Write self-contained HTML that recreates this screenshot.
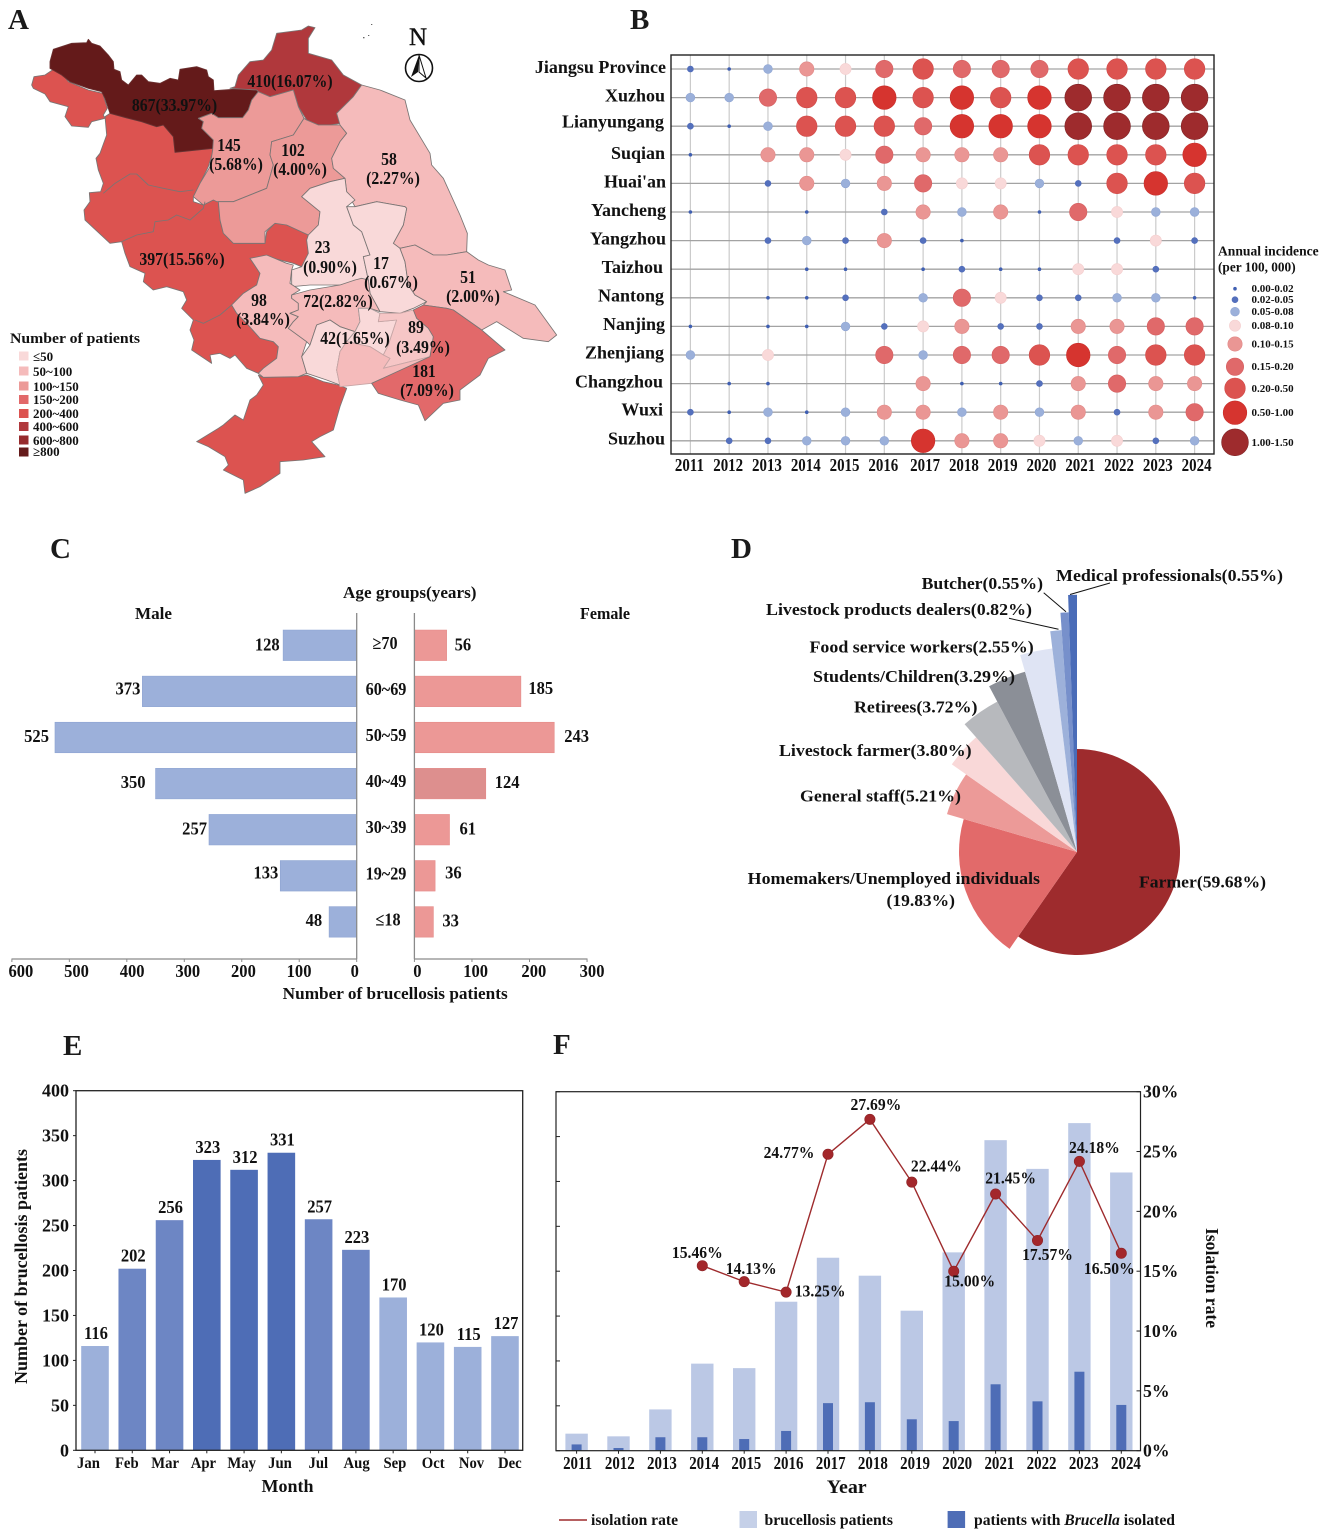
<!DOCTYPE html>
<html lang="en">
<head>
<meta charset="utf-8">
<title>Brucellosis epidemiology figure</title>
<style>
html,body{margin:0;padding:0;background:#fff}
svg{display:block;font-family:"Liberation Serif","Noto Serif CJK SC",serif;font-weight:bold;fill:#111}
</style>
</head>
<body>
<svg id="fig" xmlns="http://www.w3.org/2000/svg" width="1325" height="1534" viewBox="0 0 1325 1534">
<rect x="0" y="0" width="1325" height="1534" fill="#fff"/>

<!-- Panel letters -->
<g font-size="29" fill="#1a1a1a">
<text x="8" y="29">A</text>
<text x="630" y="29">B</text>
<text x="50" y="558">C</text>
<text x="731" y="558">D</text>
<text x="63" y="1055">E</text>
<text x="553" y="1054">F</text>
</g>

<!-- Panel A: map -->
<g>
<g transform="scale(0.33333)" stroke="#7a7574" stroke-width="2.6" stroke-linejoin="round">
<polygon fill="#dc5350" points="95,255 102,230 135,225 160,208 185,220 205,245 265,270 308,280 322,325 310,345 315,355 275,365 265,382 215,378 195,350 205,320 150,305 135,282 100,265"/>
<polygon fill="#dc5350" points="315,350 320,405 300,460 288,475 295,510 310,550 302,575 268,578 270,605 252,630 255,660 330,730 365,725 375,760 390,800 435,820 430,845 460,870 500,860 550,875 560,900 545,925 580,960 570,990 582,1020 575,1050 635,1090 630,1065 660,1060 690,1075 705,1065 740,1105 775,1120 790,1105 830,1075 835,1040 820,1025 780,1015 740,970 710,940 695,915 730,880 770,855 780,820 750,775 800,770 880,790 905,800 925,760 920,720 925,705 860,675 825,670 800,695 795,730 700,730 670,700 660,660 655,605 640,600 610,615 580,605 580,590 600,550 625,500 640,450 640,445 525,457 520,410 490,375 470,380 425,365 385,355 330,340"/>
<polygon fill="#dc5350" points="775,1125 790,1155 770,1185 750,1200 730,1260 705,1245 670,1275 655,1285 590,1325 625,1340 675,1370 685,1395 670,1410 730,1440 735,1480 780,1460 840,1420 840,1385 910,1380 975,1370 935,1325 960,1310 1000,1290 1020,1220 1040,1165 1015,1155 970,1145 920,1125 895,1130 790,1132"/>
<polygon fill="#641a1a" stroke="#6a3030" points="150,185 160,148 215,130 260,128 265,118 275,130 300,138 325,165 340,185 342,208 360,215 365,240 385,255 410,225 425,225 445,245 480,250 510,235 535,240 540,208 590,200 620,210 625,230 640,240 642,272 700,268 765,265 775,275 755,300 745,330 728,353 655,353 635,340 595,355 610,365 605,385 640,420 640,445 525,457 520,410 490,375 470,380 425,365 385,355 330,340 315,295 305,275 265,265 210,245 185,225 150,205"/>
<polygon fill="#b0383c" points="705,260 715,225 750,185 790,180 815,150 830,100 905,90 925,78 945,83 925,115 925,160 995,180 1030,225 1085,255 1060,290 1025,325 1010,340 1025,370 990,375 955,375 920,360 895,320 880,270 810,290 780,280 770,270 690,265"/>
<polygon fill="#ec9a98" points="595,355 635,340 655,353 728,353 745,330 755,300 775,275 810,290 880,270 895,320 912,355 880,405 815,425 810,465 820,495 800,565 700,605 650,605 640,600 610,615 580,590 600,550 630,500 638,450 640,420 605,385 610,365"/>
<polygon fill="#ec9a98" points="912,355 920,360 955,375 1020,375 1040,400 1020,425 995,475 1000,505 1035,535 990,545 930,565 905,590 960,635 955,675 925,705 860,675 825,670 795,695 795,730 700,730 670,700 660,660 655,605 700,605 800,565 820,495 810,465 815,425 880,405"/>
<polygon fill="#f5bbbb" points="1085,255 1140,270 1215,300 1230,360 1290,460 1295,495 1330,535 1380,645 1402,700 1400,755 1340,765 1300,765 1245,735 1200,745 1180,730 1210,675 1220,625 1215,620 1130,605 1065,620 1040,575 1035,535 1000,505 995,475 1020,425 1040,400 1020,375 1010,340 1025,325 1060,290"/>
<polygon fill="#f9d9d9" points="905,590 930,565 990,545 1035,535 1040,575 1065,600 1040,620 1060,675 1085,695 1110,765 1090,770 1105,840 1020,855 930,855 875,860 875,810 905,800 925,760 920,720 925,705 955,675 960,635"/>
<polygon fill="#f9d9d9" points="1065,620 1130,605 1215,620 1220,625 1210,675 1180,730 1200,745 1215,785 1225,855 1245,885 1280,905 1240,925 1200,940 1140,935 1110,880 1105,840 1090,770 1110,765 1085,695 1060,675 1040,620"/>
<polygon fill="#f5bbbb" points="1200,745 1245,735 1300,765 1340,765 1400,755 1435,780 1465,795 1515,810 1535,870 1510,875 1605,915 1670,1005 1645,1025 1570,1015 1490,965 1445,990 1360,930 1340,925 1270,915 1280,905 1245,885 1225,855 1215,785"/>
<polygon fill="#f5bbbb" points="750,775 800,765 860,790 880,795 875,810 870,850 900,870 875,885 875,895 895,910 895,930 870,940 895,950 880,965 865,985 920,1025 905,1070 920,1120 895,1130 790,1132 775,1120 790,1105 830,1075 835,1040 820,1025 780,1015 740,970 710,940 695,915 730,880 770,855 780,820"/>
<polygon fill="#f5bbbb" points="875,885 930,870 1020,855 1065,840 1085,835 1105,840 1110,880 1140,935 1110,925 1075,925 1080,965 1065,995 1020,980 990,960 950,975 930,1035 920,1025 865,985 880,965 895,950 870,940 895,930 895,910 875,895"/>
<polygon fill="#f9d9d9" points="950,975 990,960 1020,980 1065,995 1040,1025 1020,1055 1010,1110 1020,1155 980,1140 920,1120 905,1070 930,1035"/>
<polygon fill="#f9d9d9" stroke="#a89a9a" points="1075,925 1110,925 1140,940 1135,965 1190,960 1170,1020 1165,1035 1150,1065 1110,1040 1040,1025 1065,995 1080,965"/>
<polygon fill="#f6c6c6" stroke="#c7a5a5" points="1140,940 1200,940 1240,930 1250,955 1285,985 1300,1010 1290,1070 1150,1105 1170,1075 1150,1065 1165,1035 1190,960 1135,965"/>
<polygon fill="#f5bbbb" stroke="#c7a5a5" points="1020,1055 1040,1025 1110,1040 1150,1065 1170,1075 1150,1105 1290,1070 1115,1150 1020,1160 1010,1110"/>
<polygon fill="#e2696a" points="1240,930 1270,915 1340,925 1360,930 1445,990 1515,1050 1465,1075 1440,1125 1380,1170 1380,1200 1330,1210 1275,1262 1255,1215 1200,1200 1135,1180 1115,1150 1290,1070 1300,1010 1285,985 1250,955"/>
<polyline fill="none" points="310,580 345,550 390,522 410,522 445,555 490,565 540,575 580,570"/>
<polyline fill="none" points="365,725 410,705 460,695 465,665 505,660 530,645 570,660 610,625 615,605"/>
<polyline fill="none" points="585,960 610,970 660,945 695,915"/>
</g>

<g font-size="17.5" text-anchor="middle">
<text transform="translate(174.5 111) scale(.9 1)">867(33.97%)</text>
<text transform="translate(290 87) scale(.9 1)">410(16.07%)</text>
<text transform="translate(229 151) scale(.9 1)">145</text>
<text transform="translate(236 170) scale(.9 1)">(5.68%)</text>
<text transform="translate(293 156) scale(.9 1)">102</text>
<text transform="translate(300 175) scale(.9 1)">(4.00%)</text>
<text transform="translate(389 165) scale(.9 1)">58</text>
<text transform="translate(393 184) scale(.9 1)">(2.27%)</text>
<text transform="translate(182 265) scale(.9 1)">397(15.56%)</text>
<text transform="translate(322.5 253) scale(.9 1)">23</text>
<text transform="translate(330 273) scale(.9 1)">(0.90%)</text>
<text transform="translate(381 269) scale(.9 1)">17</text>
<text transform="translate(391 288) scale(.9 1)">(0.67%)</text>
<text transform="translate(468 283) scale(.9 1)">51</text>
<text transform="translate(473 302) scale(.9 1)">(2.00%)</text>
<text transform="translate(259 306) scale(.9 1)">98</text>
<text transform="translate(263 325) scale(.9 1)">(3.84%)</text>
<text transform="translate(338 307) scale(.9 1)">72(2.82%)</text>
<text transform="translate(355 344) scale(.9 1)">42(1.65%)</text>
<text transform="translate(416 333) scale(.9 1)">89</text>
<text transform="translate(423 353) scale(.9 1)">(3.49%)</text>
<text transform="translate(424 377) scale(.9 1)">181</text>
<text transform="translate(427 396) scale(.9 1)">(7.09%)</text>
</g>

<g>
<text x="418" y="45" font-size="25" text-anchor="middle" font-weight="normal" stroke="#111" stroke-width=".4">N</text>
<ellipse cx="419" cy="68" rx="13.5" ry="13.5" fill="#fff" stroke="#111" stroke-width="1.6"/>
<polygon points="419,55 418,72 411,77" fill="#111"/>
<polygon points="419,55 419,72 426,78" fill="#fff" stroke="#111" stroke-width="1"/>
</g>
<g fill="#666">
<rect x="371" y="24" width="1.3" height="1"/>
<rect x="363" y="37" width="1.5" height="1.3"/>
<rect x="368" y="35" width="1.3" height="1"/>
</g>

<g font-size="13">
<text x="10" y="343" font-size="15" textLength="130" lengthAdjust="spacingAndGlyphs">Number of patients</text>
<rect x="19" y="351.5" width="9.5" height="9" fill="#f9d9d9"/>
<text x="33" y="361">≤50</text>
<rect x="19" y="366.5" width="9.5" height="9" fill="#f5bbbb"/>
<text x="33" y="376">50~100</text>
<rect x="19" y="381.5" width="9.5" height="9" fill="#ec9a98"/>
<text x="33" y="391">100~150</text>
<rect x="19" y="395" width="9.5" height="9" fill="#e2696a"/>
<text x="33" y="404">150~200</text>
<rect x="19" y="409" width="9.5" height="9" fill="#dc5350"/>
<text x="33" y="418">200~400</text>
<rect x="19" y="422" width="9.5" height="9" fill="#b0383c"/>
<text x="33" y="431">400~600</text>
<rect x="19" y="435.5" width="9.5" height="9" fill="#962a2c"/>
<text x="33" y="445">600~800</text>
<rect x="19" y="447.5" width="9.5" height="9" fill="#641a1a"/>
<text x="33" y="456">≥800</text>
</g>
</g>

<g id="panelB"></g>
<g id="panelC"></g>
<g id="panelD"></g>
<g id="panelE"></g>
<g id="panelF"></g>
</svg>

<script>
// ---------- Panel B data ----------
const bubbleYears = [2011,2012,2013,2014,2015,2016,2017,2018,2019,2020,2021,2022,2023,2024];
const bubbleCities = ["Jiangsu Province","Xuzhou","Lianyungang","Suqian","Huai'an","Yancheng","Yangzhou","Taizhou","Nantong","Nanjing","Zhenjiang","Changzhou","Wuxi","Suzhou"];
const incidenceJiangsu = [0.03,0.01,0.06,0.12,0.09,0.18,0.3,0.18,0.18,0.18,0.3,0.3,0.3,0.3];
const incidenceXuzhou = [0.06,0.06,0.18,0.3,0.3,0.7,0.3,0.7,0.3,0.7,1.2,1.2,1.2,1.2];
const incidenceLianyungang = [0.03,0.01,0.06,0.3,0.3,0.3,0.18,0.7,0.7,0.7,1.2,1.2,1.2,1.2];
const incidenceSuqian = [0.01,null,0.12,0.12,0.09,0.18,0.12,0.12,0.12,0.3,0.3,0.3,0.3,0.7];
const incidenceHuaian = [null,null,0.03,0.12,0.06,0.12,0.18,0.09,0.09,0.06,0.03,0.3,0.7,0.3];
const incidenceYancheng = [0.01,null,null,0.01,null,0.03,0.12,0.06,0.12,0.01,0.18,0.09,0.06,0.06];
const incidenceYangzhou = [null,null,0.03,0.06,0.03,0.12,0.03,0.01,null,null,null,0.03,0.09,0.03];
const incidenceTaizhou = [null,null,null,0.01,0.01,null,0.01,0.03,0.01,0.01,0.09,0.09,0.03,null];
const incidenceNantong = [null,null,0.01,0.01,0.03,null,0.06,0.18,0.09,0.03,0.03,0.06,0.06,0.01];
const incidenceNanjing = [0.01,null,0.01,0.01,0.06,0.03,0.09,0.12,0.03,0.03,0.12,0.12,0.18,0.18];
const incidenceZhenjiang = [0.06,null,0.09,null,null,0.18,0.06,0.18,0.18,0.3,0.7,0.18,0.3,0.3];
const incidenceChangzhou = [null,0.01,0.01,null,null,null,0.12,0.01,0.01,0.03,0.12,0.18,0.12,0.12];
const incidenceWuxi = [0.03,0.01,0.06,0.01,0.06,0.12,0.12,0.06,0.12,0.06,0.12,0.03,0.12,0.18];
const incidenceSuzhou = [null,0.03,0.03,0.06,0.06,0.06,0.7,0.12,0.12,0.09,0.06,0.09,0.03,0.06];
const incidenceBreaks = [0.02,0.05,0.08,0.10,0.15,0.20,0.50,1.00,1.50];
const incidenceLabels = ["0.00-0.02","0.02-0.05","0.05-0.08","0.08-0.10","0.10-0.15","0.15-0.20","0.20-0.50","0.50-1.00","1.00-1.50"];
const incidenceSamples = [0.01,0.03,0.06,0.09,0.12,0.18,0.3,0.7,1.2];

// ---------- Panel C data ----------
const ageGroups = ["≥70","60~69","50~59","40~49","30~39","19~29","≤18"];
const maleCounts = [128,373,525,350,257,133,48];
const femaleCounts = [56,185,243,124,61,36,33];
const maleTicks = [600,500,400,300,200,100,0];
const femaleTicks = [0,100,200,300];

// ---------- Panel D data ----------
const occupations = ["Farmer","Homemakers/Unemployed individuals","General staff","Livestock farmer","Retirees","Students/Children","Food service workers","Livestock products dealers","Butcher","Medical professionals"];
const occupationShares = [59.68,19.83,5.21,3.80,3.72,3.29,2.55,0.82,0.55,0.55];

// ---------- Panel E data ----------
const months = ["Jan","Feb","Mar","Apr","May","Jun","Jul","Aug","Sep","Oct","Nov","Dec"];
const monthlyCases = [116,202,256,323,312,331,257,223,170,120,115,127];
const monthlyTicks = [0,50,100,150,200,250,300,350,400];

// ---------- Panel F data ----------
const comboYears = [2011,2012,2013,2014,2015,2016,2017,2018,2019,2020,2021,2022,2023,2024];
const yearlyPatients = [19,16,46,97,92,166,215,195,156,221,346,314,365,310];
const yearlyIsolated = [7,3,15,15,13,22,53,54,35,33,74,55,88,51];
const isolationRates = [null,null,null,15.46,14.13,13.25,24.77,27.69,22.44,15.00,21.45,17.57,24.18,16.50];
const rateTicks = [0,5,10,15,20,25,30];
const patientTicks = [0,50,100,150,200,250,300,350,400];

// ---------- helpers ----------
const SVGNS = "http://www.w3.org/2000/svg";
function mk(tag, parent, name, attrs) {
  const el = document.createElementNS(SVGNS, tag);
  
  
  for (const k in attrs) el.setAttribute(k, attrs[k]);
  parent.appendChild(el);
  return el;
}
function label(parent, name, str, x, y, size, anchor, sx, extra) {
  const el = mk('text', parent, name, Object.assign({
    transform: 'translate(' + x + ' ' + y + ') scale(' + sx + ' 1)',
    'font-size': size,
    'text-anchor': anchor
  }, extra || {}));
  el.textContent = str;
  return el;
}
function fitted(parent, name, str, x, y, size, width, extra) {
  const el = mk('text', parent, name, Object.assign({
    x: x, y: y, 'font-size': size, textLength: width, lengthAdjust: 'spacingAndGlyphs'
  }, extra || {}));
  el.textContent = str;
  return el;
}
function line(parent, name, x1, y1, x2, y2, stroke, w) {
  return mk('line', parent, name, {x1:x1, y1:y1, x2:x2, y2:y2, stroke:stroke, 'stroke-width':w});
}

// ---------- Panel B ----------
(function () {
  const g = document.getElementById('panelB');
  const rows = [incidenceJiangsu,incidenceXuzhou,incidenceLianyungang,incidenceSuqian,incidenceHuaian,incidenceYancheng,incidenceYangzhou,incidenceTaizhou,incidenceNantong,incidenceNanjing,incidenceZhenjiang,incidenceChangzhou,incidenceWuxi,incidenceSuzhou];
  const classRadius = [1.5,3,4.4,5.6,7.2,8.7,10.3,11.8,13.4];
  const classColor = ['#3f5fb2','#5470bd','#9bb0da','#f9d9d9','#ea9694','#e0696a','#dc5350','#d6342f','#9e2b2d'];
  const classStroke = ['#3f5fb2','#4f6bb8','#90a6d4','#f4cfcf','#e08a88','#d45f60','#cf4a48','#c82e2a','#7e2224'];
  const x = function (i) { return 690.4 + i * 38.785; };
  const y = function (j) { return 69 + j * 28.6; };
  const classOf = function (v) {
    for (let k = 0; k < incidenceBreaks.length; k++) if (v <= incidenceBreaks[k]) return k;
    return incidenceBreaks.length - 1;
  };
  bubbleYears.forEach(function (yr, i) {
    line(g, 'vertical-grid-' + yr, x(i), 55, x(i), 454, '#cbcbcb', 1.2);
  });
  bubbleCities.forEach(function (c, j) {
    line(g, 'horizontal-grid-row-' + j, 671, y(j), 1214, y(j), '#a3a3a3', 1.3);
  });
  rows.forEach(function (row, j) {
    row.forEach(function (v, i) {
      if (v === null) return;
      const k = classOf(v);
      mk('circle', g, 'bubble-row-' + j + '-' + bubbleYears[i], {cx:x(i), cy:y(j), r:classRadius[k], fill:classColor[k], stroke:classStroke[k], 'stroke-width':.6});
    });
  });
  mk('rect', g, 'bubble-plot-frame', {x:671, y:55, width:543, height:399, fill:'none', stroke:'#222', 'stroke-width':1.4});
  const cityRight = [666,665,664,665,666,666,666,663,664,665,664,663,663,665];
  const cityBaselineShift = [4,4,1.5,4,4,4,4,4,3.5,3.5,3.5,4,3.5,3.5];
  bubbleCities.forEach(function (c, j) {
    label(g, 'city-label-' + j, c, cityRight[j], y(j) + cityBaselineShift[j], 18, 'end', 1);
  });
  bubbleYears.forEach(function (yr, i) {
    label(g, 'year-label-' + yr, String(yr), x(i) + (i > 5 ? 2 : -1), 471, 18, 'middle', .83);
  });
  label(g, 'bubble-legend-title-line-1', 'Annual incidence', 1218, 255.5, 14, 'start', .97);
  label(g, 'bubble-legend-title-line-2', '(per 100, 000)', 1218, 271.5, 14, 'start', .95);
  const legendY = [288.7,299.7,311.7,325.7,344,366.7,388.3,412.7,442.3];
  incidenceSamples.forEach(function (v, i) {
    const k = classOf(v);
    mk('circle', g, 'bubble-legend-marker-' + i, {cx:1235, cy:legendY[i], r:classRadius[k], fill:classColor[k], stroke:classStroke[k], 'stroke-width':.6});
    label(g, 'bubble-legend-label-' + i, incidenceLabels[i], 1251.5, legendY[i] + 3.5, 11, 'start', 1);
  });
})();

// ---------- Panel C ----------
(function () {
  const g = document.getElementById('panelC');
  const xM = function (v) { return 356.7 - v * 0.5747; };
  const xF = function (v) { return 414.4 + v * 0.5755; };
  const y = function (i) { return 645.3 + i * 46.1; };
  const h = 30.5;
  const maleGap = [3.5,2,6,10,2,2,7];
  const femaleGap = [8,7.5,10,9,10,10,9];
  const maleShift = [5,3,4.5,4.5,5,2.5,4];
  const femaleShift = [5,2.5,4.5,4.5,5,2.5,4.5];
  ageGroups.forEach(function (a, i) {
    mk('rect', g, 'male-bar-' + i, {x:xM(maleCounts[i]), y:y(i) - h/2, width:356.7 - xM(maleCounts[i]), height:h, fill:'#9cb0da', stroke:'#8ea4d2', 'stroke-width':.6});
    mk('rect', g, 'female-bar-' + i, {x:414.4, y:y(i) - h/2, width:xF(femaleCounts[i]) - 414.4, height:h, fill:i === 3 ? '#dd8f8e' : '#ec9896', stroke:'#e58b89', 'stroke-width':.6});
    label(g, 'male-value-' + i, String(maleCounts[i]), xM(maleCounts[i]) - maleGap[i], y(i) + maleShift[i], 18, 'end', .92);
    label(g, 'female-value-' + i, String(femaleCounts[i]), xF(femaleCounts[i]) + femaleGap[i], y(i) + femaleShift[i], 18, 'start', .92);
    label(g, 'age-group-' + i, a, i === 0 ? 385 : (i === 6 ? 388 : 386), y(i) + 3.5, 18, 'middle', .9);
  });
  line(g, 'male-vertical-axis', 356.7, 613, 356.7, 959, '#8a8a8a', 1.3);
  line(g, 'female-vertical-axis', 414.4, 613, 414.4, 959, '#8a8a8a', 1.3);
  line(g, 'male-horizontal-axis', 11.5, 959, 357, 959, '#8a8a8a', 1.3);
  line(g, 'female-horizontal-axis', 414, 959, 587.5, 959, '#8a8a8a', 1.3);
  maleTicks.forEach(function (t) {
    line(g, 'male-tick-' + t, xM(t), 959, xM(t), 962, '#8a8a8a', 1);
    label(g, 'male-tick-label-' + t, String(t), xM(t) + (t / 600 * 11 - 2), 977, 18, 'middle', .92);
  });
  femaleTicks.forEach(function (t) {
    line(g, 'female-tick-' + t, xF(t), 959, xF(t), 962, '#8a8a8a', 1);
    label(g, 'female-tick-label-' + t, String(t), xF(t) + 3 + t / 300 * 2, 977, 18, 'middle', .92);
  });
  fitted(g, 'male-title', 'Male', 135, 619, 17, 37);
  fitted(g, 'female-title', 'Female', 580, 619, 17, 50);
  fitted(g, 'age-axis-title', 'Age groups(years)', 343, 598, 17, 133.5);
  fitted(g, 'pyramid-x-axis-title', 'Number of brucellosis patients', 282.7, 999, 17, 225);
})();

// ---------- Panel D ----------
(function () {
  const g = document.getElementById('panelD');
  const cx = 1077, cy = 852;
  const colors = ['#9e2b2d','#e26a6a','#ec9a98','#f9d8d8','#b7b9bd','#8b8f97','#dfe4f4','#9db1da','#7790cb','#4a6cb8'];
  const radius = function (i) { return i === 0 ? 103 : 118 + (i - 1) * 17.4; };
  const total = occupationShares.reduce(function (a, b) { return a + b; }, 0);
  let acc = 0;
  occupationShares.forEach(function (v, i) {
    const a0 = acc / total * 2 * Math.PI;
    acc += v;
    const a1 = acc / total * 2 * Math.PI;
    const r = radius(i);
    const p0 = [cx + r * Math.sin(a0), cy - r * Math.cos(a0)];
    const p1 = [cx + r * Math.sin(a1), cy - r * Math.cos(a1)];
    const large = a1 - a0 > Math.PI ? 1 : 0;
    mk('path', g, 'pie-slice-' + i, {d:'M' + cx + ' ' + cy + 'L' + p0[0] + ' ' + p0[1] + 'A' + r + ' ' + r + ' 0 ' + large + ' 1 ' + p1[0] + ' ' + p1[1] + 'Z', fill:colors[i]});
  });
  line(g, 'leader-medical', 1070, 594.5, 1110, 583, '#111', 1);
  line(g, 'leader-butcher', 1066, 611.7, 1043.7, 592.7, '#111', 1);
  line(g, 'leader-products', 1058.5, 629.3, 1009, 618.3, '#111', 1);
  const pct = function (i) { return occupations[i] + '(' + occupationShares[i].toFixed(2) + '%)'; };
  fitted(g, 'pie-label-farmer', pct(0), 1139, 887.5, 17, 127);
  fitted(g, 'pie-label-homemakers', occupations[1], 747.7, 884, 17, 292.3);
  fitted(g, 'pie-label-homemakers-share', '(' + occupationShares[1].toFixed(2) + '%)', 886.5, 906, 17, 68.5);
  fitted(g, 'pie-label-general-staff', pct(2), 800, 801.5, 17, 161);
  fitted(g, 'pie-label-livestock-farmer', pct(3), 779, 756, 17, 192.6);
  fitted(g, 'pie-label-retirees', pct(4), 854, 712.5, 17, 123.5);
  fitted(g, 'pie-label-students', pct(5), 813, 682, 17, 202);
  fitted(g, 'pie-label-food-service', pct(6), 809.5, 652.5, 17, 224.2);
  fitted(g, 'pie-label-products-dealers', pct(7), 766, 615, 17, 266);
  fitted(g, 'pie-label-butcher', pct(8), 921.6, 589, 17, 121.4);
  fitted(g, 'pie-label-medical', pct(9), 1056, 581, 17, 227);
})();

// ---------- Panel E ----------
(function () {
  const g = document.getElementById('panelE');
  const left = 76, right = 522.7, top = 1090.7, bottom = 1450.3;
  const x = function (i) { return 95 + i * 37.27; };
  const y = function (v) { return bottom - v / 400 * (bottom - top); };
  const w = 27.6;
  const shade = function (v) { return v >= 300 ? '#4e6db6' : (v >= 200 ? '#6d86c4' : '#9cb0da'); };
  monthlyCases.forEach(function (v, i) {
    mk('rect', g, 'month-bar-' + months[i].toLowerCase(), {x:x(i) - w/2, y:y(v), width:w, height:bottom - y(v), fill:shade(v)});
    label(g, 'month-value-' + months[i].toLowerCase(), String(v), x(i) + 1, y(v) - 7, 18, 'middle', .92);
    line(g, 'month-tick-' + months[i].toLowerCase(), x(i), bottom, x(i), bottom + 3, '#222', 1);
    label(g, 'month-label-' + months[i].toLowerCase(), months[i], 88.5 + i * 38.3, 1468, 15.5, 'middle', .95);
  });
  monthlyTicks.forEach(function (t) {
    line(g, 'monthly-y-tick-' + t, left - 3, y(t), left, y(t), '#222', 1);
    label(g, 'monthly-y-label-' + t, String(t), 69, y(t) + 6, 18, 'end', 1);
  });
  mk('rect', g, 'monthly-plot-frame', {x:left, y:top, width:right - left, height:bottom - top, fill:'none', stroke:'#222', 'stroke-width':1.3});
  label(g, 'monthly-x-axis-title', 'Month', 287.5, 1492, 18, 'middle', 1);
  const yt = mk('text', g, 'monthly-y-axis-title', {transform:'translate(27 1384) rotate(-90)', 'font-size':17.5, textLength:235, lengthAdjust:'spacingAndGlyphs'});
  yt.textContent = 'Number of brucellosis patients';
})();

// ---------- Panel F ----------
(function () {
  const g = document.getElementById('panelF');
  const left = 556, right = 1140.5, top = 1091.7, bottom = 1450.7;
  const x = function (i) { return 576.6 + i * 41.9; };
  const yP = function (v) { return bottom - v / 400 * (bottom - top); };
  const yR = function (v) { return bottom - v / 30 * (bottom - top); };
  comboYears.forEach(function (yr, i) {
    mk('rect', g, 'patients-bar-' + yr, {x:x(i) - 11.2, y:yP(yearlyPatients[i]), width:22.4, height:bottom - yP(yearlyPatients[i]), fill:'#bbc8e5'});
  });
  comboYears.forEach(function (yr, i) {
    mk('rect', g, 'isolated-bar-' + yr, {x:x(i) - 5, y:yP(yearlyIsolated[i]), width:10, height:bottom - yP(yearlyIsolated[i]), fill:'#4e6db6'});
  });
  const pts = [];
  isolationRates.forEach(function (v, i) { if (v !== null) pts.push(x(i) + ',' + yR(v)); });
  mk('polyline', g, 'isolation-rate-line', {points:pts.join(' '), fill:'none', stroke:'#9e2b2d', 'stroke-width':1.4});
  const labelOffsetX = [0,0,0,-5,7,34,-39,6,24.5,16,15,10,15,-12];
  const labelOffsetY = [0,0,0,-13,-13,-1,-2,-15,-16,10,-16,14,-14,15];
  isolationRates.forEach(function (v, i) {
    if (v === null) return;
    mk('circle', g, 'isolation-point-' + comboYears[i], {cx:x(i), cy:yR(v), r:5.2, fill:'#a3272b', stroke:'#8d2225', 'stroke-width':.6});
    label(g, 'isolation-value-' + comboYears[i], v.toFixed(2) + '%', x(i) + labelOffsetX[i], yR(v) + labelOffsetY[i] + 5.5, 17, 'middle', .92);
  });
  mk('rect', g, 'yearly-plot-frame', {x:left, y:top, width:right - left, height:bottom - top, fill:'none', stroke:'#222', 'stroke-width':1.2});
  patientTicks.forEach(function (t) {
    line(g, 'patients-tick-' + t, left, yP(t), left + 4, yP(t), '#222', 1);
  });
  rateTicks.forEach(function (t) {
    line(g, 'rate-tick-' + t, right - 4, yR(t), right, yR(t), '#222', 1);
    label(g, 'rate-tick-label-' + t, t + '%', 1143, yR(t) + 6, 18, 'start', .98);
  });
  comboYears.forEach(function (yr, i) {
    line(g, 'year-tick-' + yr, x(i), bottom, x(i), bottom + 3, '#222', 1);
    label(g, 'combo-year-label-' + yr, String(yr), x(i) + 1 + i * .28, 1469, 18, 'middle', .83);
  });
  label(g, 'yearly-x-axis-title', 'Year', 846.7, 1493, 19, 'middle', 1.05);
  const rt = mk('text', g, 'rate-axis-title', {transform:'translate(1206 1228) rotate(90)', 'font-size':17.5, textLength:100, lengthAdjust:'spacingAndGlyphs'});
  rt.textContent = 'Isolation rate';
  line(g, 'legend-line-isolation', 559, 1520, 587, 1520, '#9e2b2d', 1.6);
  fitted(g, 'legend-label-isolation', 'isolation rate', 591, 1525, 15.5, 87);
  mk('rect', g, 'legend-swatch-patients', {x:739.5, y:1511, width:17.5, height:17, fill:'#c5d0e8'});
  fitted(g, 'legend-label-patients', 'brucellosis patients', 764.5, 1525, 15.5, 128.5);
  mk('rect', g, 'legend-swatch-isolated', {x:947.6, y:1511, width:17.5, height:17, fill:'#4e6db6'});
  const lt = fitted(g, 'legend-label-isolated', '', 974, 1525, 15.5, 201);
  const s1 = mk('tspan', lt, 'legend-label-isolated-prefix', {});
  s1.textContent = 'patients with ';
  const s2 = mk('tspan', lt, 'legend-label-isolated-genus', {'font-style':'italic'});
  s2.textContent = 'Brucella';
  const s3 = mk('tspan', lt, 'legend-label-isolated-suffix', {});
  s3.textContent = ' isolated';
})();
</script>
</body>
</html>
